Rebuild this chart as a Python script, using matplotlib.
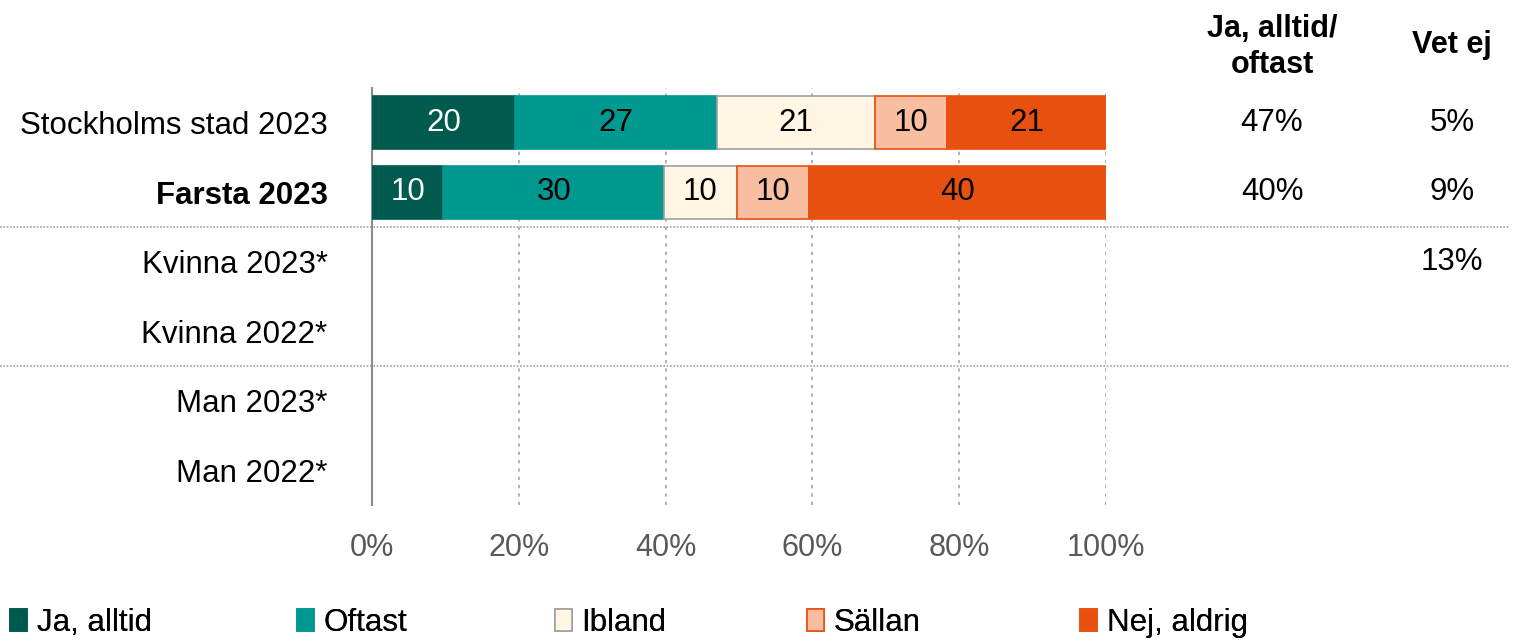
import matplotlib
matplotlib.use("Agg")
from matplotlib import pyplot as plt
from matplotlib.patches import Patch
from matplotlib.transforms import blended_transform_factory

plt.rcParams['font.family'] = ['Liberation Sans', 'DejaVu Sans']

rows = ["Stockholms stad 2023", "Farsta 2023", "Kvinna 2023*",
        "Kvinna 2022*", "Man 2023*", "Man 2022*"]
series = ["Ja, alltid", "Oftast", "Ibland", "Sällan", "Nej, aldrig"]

# shares per bar (only the first two rows have bars)
stockholm = [19.5, 27.5, 21.5, 9.8, 21.7]
farsta = [9.7, 30.1, 9.9, 9.9, 40.4]
stockholm_lbl = ["20", "27", "21", "10", "21"]
farsta_lbl = ["10", "30", "10", "10", "40"]

ja_oftast = ["47%", "40%", "", "", "", ""]
vet_ej = ["5%", "9%", "13%", "", "", ""]
xticks = [0, 20, 40, 60, 80, 100]

colors = ["#005A4E", "#00988F", "#FFF6E3", "#F8BE9F", "#E8500F"]
edges = ["#005A4E", "#00988F", "#A0A0A0", "#E8500F", "#E8500F"]
txtcol = ["white", "black", "black", "black", "black"]

FS = 22.5

fig = plt.figure(figsize=(15.24, 6.41), dpi=100)
ax = fig.add_axes([372/1524, 1-505/641, (1106-372)/1524, (505-88)/641])

for r, (vals, lbls) in enumerate([(stockholm, stockholm_lbl), (farsta, farsta_lbl)]):
    left = 0
    for i, v in enumerate(vals):
        ax.barh(r, v, left=left, height=0.76, color=colors[i],
                edgecolor=edges[i], linewidth=1.2, zorder=3)
        ax.text(left + v/2, r, lbls[i], ha='center', va='center',
                fontsize=FS, color=txtcol[i], zorder=4)
        left += v

ax.set_xlim(0, 100)
ax.set_ylim(5.5, -0.5)
ax.set_xticks(xticks)
ax.set_xticklabels([f"{t}%" for t in xticks], fontsize=22, color="#595959")
ax.set_yticks(range(len(rows)))
ax.set_yticklabels(rows, fontsize=FS)
ax.get_yticklabels()[1].set_fontweight('bold')
ax.tick_params(axis='x', length=0, pad=20)
ax.tick_params(axis='y', length=0, pad=32)
ax.grid(axis='x', color="#A6A6A6", linestyle=(0, (2, 3)), linewidth=1.2, zorder=0)
for s in ['top', 'right', 'bottom']:
    ax.spines[s].set_visible(False)
ax.spines['left'].set_color("#8C8C8C")
ax.spines['left'].set_linewidth(1.5)

# group separators across the whole figure
tr = blended_transform_factory(fig.transFigure, ax.transData)
for yy in [1.5, 3.5]:
    ax.plot([0, 1510/1524], [yy, yy], transform=tr, color="#A0A0A0",
            linestyle=(0, (1, 1)), linewidth=1.2, clip_on=False, zorder=1)

# summary columns
for r in range(len(rows)):
    ax.text(1272/1524, r, ja_oftast[r], transform=tr, ha='center', va='center', fontsize=FS)
    ax.text(1452/1524, r, vet_ej[r], transform=tr, ha='center', va='center', fontsize=FS)
fig.text(1272/1524, 1-47/641, "Ja, alltid/\noftast", ha='center', va='center',
         fontsize=22, fontweight='bold', linespacing=1.25)
fig.text(1452/1524, 1-45/641, "Vet ej", ha='center', va='center',
         fontsize=22, fontweight='bold')

# legend, one entry at a time to keep the spacing of the original
leg_x = [10, 297, 555, 807, 1080]
for i, name in enumerate(series):
    h = Patch(facecolor=colors[i], edgecolor=edges[i], linewidth=1.2)
    lg = fig.legend(handles=[h], labels=[name], loc='center left',
                    bbox_to_anchor=(leg_x[i]/1524, 1-623/641), frameon=False,
                    fontsize=FS, handlelength=0.55, handleheight=0.7,
                    handletextpad=0.3, borderpad=0, borderaxespad=0)
    fig.add_artist(lg)

fig.savefig("out.png", dpi=100)
